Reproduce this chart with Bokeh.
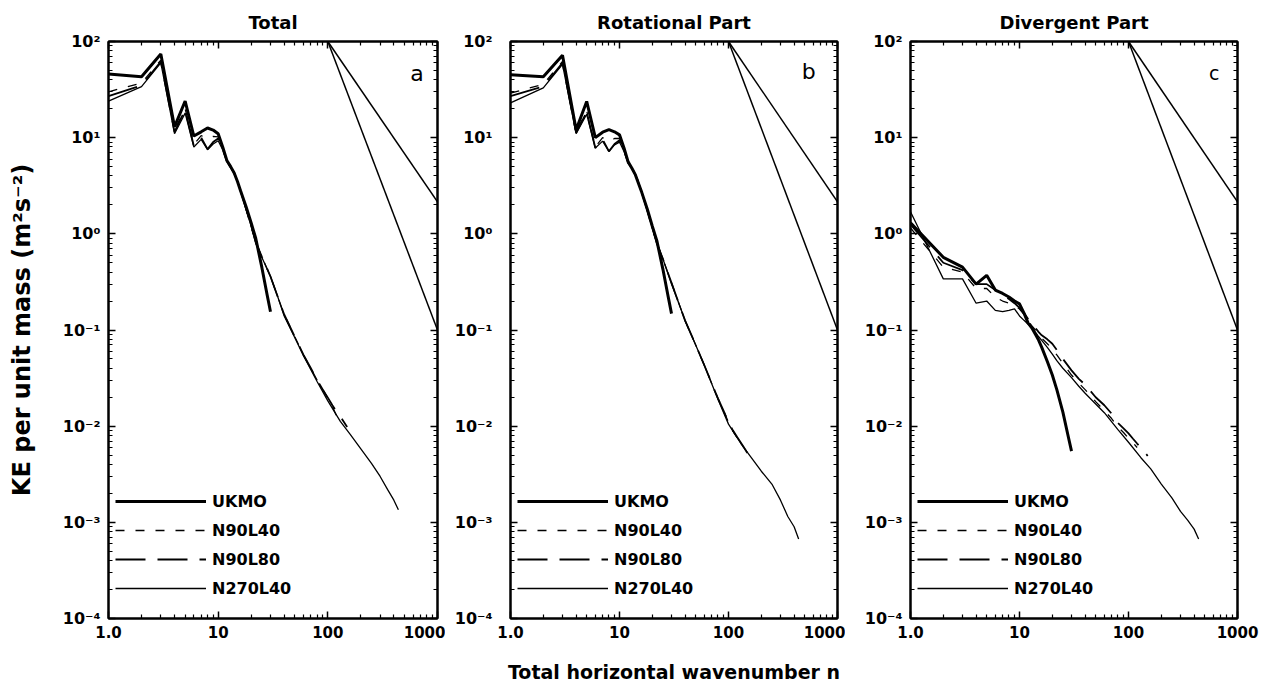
from bokeh.plotting import figure
from bokeh.models import (FixedTicker, CustomJSTickFormatter, LogAxis, Legend,
                          LegendItem, Label, Range1d)
from bokeh.layouts import row
from bokeh.embed import file_html
from bokeh.resources import INLINE

FONT = "DejaVu Sans"

# ---------------- data ----------------
titles = ["Total", "Rotational Part", "Divergent Part"]
letters = ["a", "b", "c"]
series_labels = ["UKMO", "N90L40", "N90L80", "N270L40"]

# reference power-law lines (n^-5/3 and n^-3 from n=100)
ref_n = [100, 1000]
ref_k53 = [100, 2.15]
ref_k3 = [100, 0.1]

n_ukmo = [1, 2, 3, 4, 5, 6, 7, 8, 9, 10, 11, 12, 13, 14, 15, 16, 18, 20, 22, 25, 28, 30]
n_n90 = [1, 2, 3, 4, 5, 6, 7, 8, 9, 10, 11, 12, 13, 14, 15, 16, 18, 20, 22, 25, 30, 35,
         40, 50, 60, 70, 80, 90, 100, 110, 120]
n_n90l80 = [1, 2, 3, 4, 5, 6, 7, 8, 9, 10, 11, 12, 13, 14, 15, 16, 18, 20, 22, 25, 30, 35,
            40, 50, 60, 70, 80, 90, 100, 110, 120, 135, 150]
n_n270 = [1, 2, 3, 4, 5, 6, 7, 8, 9, 10, 11, 12, 13, 14, 15, 16, 18, 20, 22, 25, 30, 35,
          40, 50, 60, 80, 100, 130, 160, 200, 250, 300, 350, 400, 440]

# Panel a: Total
a_ukmo = [46, 43, 74, 13, 24, 10.4, 11.5, 12.6, 12.0, 11.0, 8.0, 5.8, 5.0, 4.3, 3.5, 2.8,
          1.9, 1.3, 0.9, 0.45, 0.23, 0.155]
a_n90l40 = [30, 37, 64, 12, 20, 8.5, 10.5, 9.8, 10.3, 10.2, 7.8, 5.7, 4.9, 4.3, 3.5, 2.8,
            1.8, 1.2, 0.82, 0.58, 0.36, 0.22, 0.145, 0.085, 0.055, 0.04, 0.03, 0.024,
            0.0195, 0.016, 0.0128]
a_n90l80 = [27, 35, 62, 11.5, 19.5, 8.2, 10.0, 7.6, 9.0, 9.8, 7.6, 5.7, 4.9, 4.3, 3.5, 2.8,
            1.8, 1.2, 0.82, 0.58, 0.36, 0.22, 0.145, 0.085, 0.055, 0.04, 0.03, 0.024,
            0.0198, 0.0165, 0.0142, 0.0118, 0.0098]
a_n270 = [24, 34, 60, 11, 18, 8.0, 9.6, 7.5, 8.6, 9.3, 7.5, 5.7, 4.9, 4.3, 3.5, 2.8,
          1.8, 1.2, 0.8, 0.57, 0.36, 0.22, 0.14, 0.083, 0.054, 0.029, 0.0183, 0.0112,
          0.0082, 0.0058, 0.0041, 0.003, 0.0022, 0.0017, 0.00135]

# Panel b: Rotational part
b_ukmo = [45, 43, 72, 12.1, 23.8, 10.0, 11.4, 12.1, 11.5, 10.7, 7.8, 5.6, 4.8, 4.1, 3.3,
          2.7, 1.8, 1.2, 0.85, 0.43, 0.22, 0.148]
b_n90l40 = [29, 36, 62, 11.5, 19, 8.0, 10.0, 9.2, 9.8, 9.8, 7.4, 5.5, 4.8, 4.1, 3.4, 2.7,
            1.75, 1.15, 0.8, 0.55, 0.31, 0.19, 0.125, 0.07, 0.043, 0.028, 0.0195, 0.0145,
            0.011, 0.0088, 0.0076]
b_n90l80 = [27, 34, 60, 11.2, 18.5, 7.8, 9.6, 7.2, 8.6, 9.4, 7.3, 5.5, 4.8, 4.1, 3.4, 2.7,
            1.75, 1.15, 0.8, 0.55, 0.31, 0.19, 0.125, 0.07, 0.043, 0.028, 0.0195, 0.0145,
            0.011, 0.009, 0.0077, 0.0063, 0.0052]
b_n270 = [23, 33, 58, 11, 17.5, 7.8, 9.2, 7.2, 8.4, 9.0, 7.2, 5.5, 4.8, 4.1, 3.4, 2.7,
          1.75, 1.15, 0.8, 0.55, 0.3, 0.19, 0.125, 0.07, 0.043, 0.019, 0.0105, 0.0066,
          0.0048, 0.0034, 0.0025, 0.0017, 0.00115, 0.0009, 0.00067]

# Panel c: Divergent part
c_ukmo = [1.3, 0.57, 0.45, 0.30, 0.37, 0.26, 0.24, 0.22, 0.20, 0.187, 0.15, 0.118, 0.105,
          0.09, 0.078, 0.066, 0.047, 0.034, 0.024, 0.014, 0.0078, 0.0055]
c_n90l40 = [1.15, 0.45, 0.40, 0.27, 0.27, 0.22, 0.20, 0.19, 0.18, 0.165, 0.145, 0.125, 0.11,
            0.1, 0.09, 0.082, 0.072, 0.064, 0.055, 0.045, 0.034, 0.028, 0.024, 0.018,
            0.0145, 0.012, 0.0098, 0.0086, 0.0075, 0.0067, 0.006]
c_n90l80 = [1.25, 0.50, 0.42, 0.30, 0.30, 0.26, 0.23, 0.21, 0.19, 0.17, 0.15, 0.13, 0.115,
            0.105, 0.095, 0.088, 0.08, 0.072, 0.062, 0.05, 0.038, 0.031, 0.027, 0.02,
            0.0165, 0.0135, 0.0108, 0.0095, 0.0084, 0.0074, 0.0066, 0.0057, 0.0049]
c_n270 = [1.7, 0.34, 0.34, 0.19, 0.20, 0.16, 0.155, 0.16, 0.166, 0.14, 0.126, 0.115, 0.105,
          0.095, 0.085, 0.078, 0.066, 0.056, 0.048, 0.04, 0.032, 0.026, 0.022, 0.017,
          0.0138, 0.0092, 0.0068, 0.0047, 0.0036, 0.0025, 0.0018, 0.0013, 0.00105,
          0.00085, 0.00067]

panel_data = [
    (a_ukmo, a_n90l40, a_n90l80, a_n270),
    (b_ukmo, b_n90l40, b_n90l80, b_n270),
    (c_ukmo, c_n90l40, c_n90l80, c_n270),
]
letter_pos = [(650, 46), (545, 49), (610, 47)]

# ---------------- helpers ----------------
y_major = [1e-4, 1e-3, 1e-2, 1e-1, 1e0, 1e1, 1e2]
y_minor = [k * 10.0 ** e for e in range(-4, 2) for k in range(2, 10)]
x_major = [1, 10, 100, 1000]
x_minor = [k * 10.0 ** e for e in range(0, 3) for k in range(2, 10)]

Y_FMT = """
const sup = {"-": "\u207b", "0": "\u2070", "1": "\u00b9", "2": "\u00b2", "3": "\u00b3", "4": "\u2074"};
const e = Math.round(Math.log10(tick));
return "10" + String(e).split("").map(c => sup[c]).join("");
"""
X_FMT = "return tick == 1 ? '1.0' : String(Math.round(tick));"
BLANK = "return '';"


def style_axis(ax, ticks, minor, fmt, label_size="15px", standoff=8):
    ax.ticker = FixedTicker(ticks=ticks, minor_ticks=minor)
    ax.formatter = CustomJSTickFormatter(code=fmt)
    ax.axis_line_width = 2
    ax.axis_line_color = "black"
    ax.major_tick_in = 7
    ax.major_tick_out = 0
    ax.minor_tick_in = 4
    ax.minor_tick_out = 0
    ax.major_tick_line_width = 1.5
    ax.minor_tick_line_width = 1.2
    ax.major_tick_line_color = "black"
    ax.minor_tick_line_color = "black"
    ax.major_label_text_font = FONT
    ax.major_label_text_font_style = "bold"
    ax.major_label_text_font_size = label_size
    ax.major_label_text_color = "black"
    ax.major_label_standoff = standoff
    ax.axis_label_text_color = "black"
    ax.axis_label_text_font = FONT
    ax.axis_label_text_font_style = "bold"


def make_panel(i, width, left, right, ystandoff):
    p = figure(width=width, height=686, x_axis_type="log", y_axis_type="log",
               x_range=Range1d(1, 1000), y_range=Range1d(1e-4, 1e2),
               output_backend="svg", toolbar_location=None,
               min_border_left=left, min_border_right=right,
               min_border_top=38, min_border_bottom=68, title=titles[i])
    p.title.align = "center"
    p.title.text_font = FONT
    p.title.text_font_size = "18px"
    p.title.text_font_style = "bold"
    p.title.text_color = "black"
    p.title.standoff = 18
    p.grid.visible = False
    p.outline_line_color = "black"
    p.outline_line_width = 2
    p.background_fill_color = "white"
    p.border_fill_color = "white"

    style_axis(p.below[0], x_major, x_minor, X_FMT, standoff=7)
    style_axis(p.left[0], y_major, y_minor, Y_FMT, label_size="16px", standoff=ystandoff)

    top = LogAxis()
    style_axis(top, x_major, x_minor, BLANK, label_size="0px", standoff=0)
    p.add_layout(top, "above")
    rgt = LogAxis()
    style_axis(rgt, y_major, y_minor, BLANK, label_size="0px", standoff=0)
    p.add_layout(rgt, "right")

    ukmo, n40, n80, n270 = panel_data[i]
    p.line(ref_n, ref_k53, line_color="black", line_width=1.5)
    p.line(ref_n, ref_k3, line_color="black", line_width=1.5)
    r270 = p.line(n_n270, n270, line_color="black", line_width=1.3)
    r40 = p.line(n_n90, n40, line_color="black", line_width=1.3, line_dash="9 11")
    r80 = p.line(n_n90l80, n80, line_color="black", line_width=1.8, line_dash="30 12")
    ruk = p.line(n_ukmo, ukmo, line_color="black", line_width=3)

    legend = Legend(items=[LegendItem(label=series_labels[0], renderers=[ruk]),
                           LegendItem(label=series_labels[1], renderers=[r40]),
                           LegendItem(label=series_labels[2], renderers=[r80]),
                           LegendItem(label=series_labels[3], renderers=[r270])],
                    location=(7, 20), glyph_width=91, glyph_height=20, label_height=20,
                    spacing=9, label_standoff=6, padding=0, margin=0,
                    border_line_alpha=0, background_fill_alpha=0,
                    label_text_font=FONT, label_text_font_size="16px",
                    label_text_font_style="bold", label_text_color="black")
    p.add_layout(legend)

    lx, ly = letter_pos[i]
    p.add_layout(Label(x=lx, y=ly, text=letters[i], text_font=FONT,
                       text_font_size="22px" if i < 2 else "19px",
                       text_align="center", text_baseline="middle",
                       text_color="black"))
    return p


pa = make_panel(0, 445, 108, 8, 8)
pb = make_panel(1, 400, 65, 8, 18)
pc = make_panel(2, 418, 65, 26, 8)

pa.left[0].axis_label = "KE per unit mass (m\u00b2s\u207b\u00b2)"
pa.left[0].axis_label_text_font_size = "24px"
pa.left[0].axis_label_standoff = 24

pb.below[0].axis_label = "Total horizontal wavenumber n"
pb.below[0].axis_label_text_font_size = "19px"
pb.below[0].axis_label_standoff = 20

layout = row(pa, pb, pc)
open("out.html", "w").write(file_html(layout, INLINE))
